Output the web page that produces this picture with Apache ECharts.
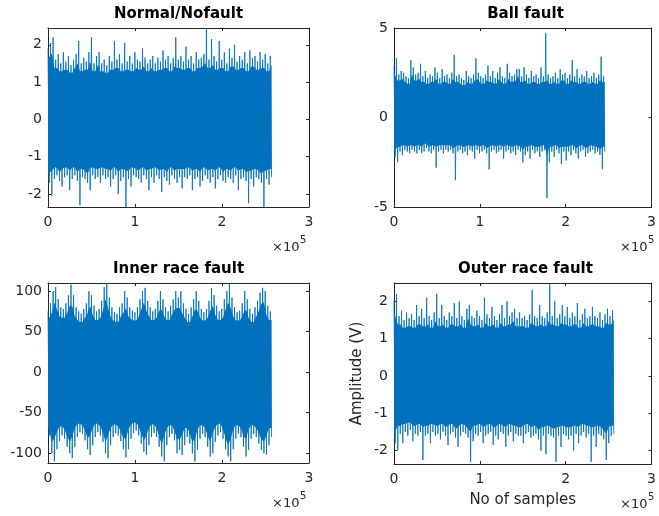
<!DOCTYPE html>
<html>
<head>
<meta charset="utf-8">
<script src="https://cdn.jsdelivr.net/npm/echarts@6/dist/echarts.min.js"></script>
<style>
  html, body { margin: 0; padding: 0; background: #fff; }
  #chart { width: 659px; height: 516px; }
</style>
</head>
<body>
<div id="chart"></div>
<script>
// Vibration records: each signal is stored as per-segment maximum / minimum
// amplitude, consecutive segments covering the whole record.
const panelTitles = ['Normal/Nofault', 'Ball fault', 'Inner race fault', 'Outer race fault'];
const xTicks = [0, 100000, 200000, 300000];

const normalEnd = 257000;
const normalHi = [1.9,2.05,2.2,1.6,1.75,1.5,1.8,1.55,1.7,1.45, 1.6,1.75,2.1,1.5,1.65,1.55,1.8,2.2,1.5,1.7,
  1.8,1.5,1.6,1.45,1.7,1.55,2.1,1.6,1.75,1.5, 2.05,1.55,1.7,1.5,1.8,1.6,1.55,1.9,1.65,1.5,
  1.6,1.7,1.5,1.65,1.55,1.85,1.6,1.7,1.5,1.65,2.2,1.6, 1.7,1.55,1.95,1.6,1.7,1.5,1.8,1.6,1.65,1.75,
  2.45,1.6,2.15,1.7,1.55,2.1,1.6,1.8,1.5,1.9, 1.65,2.0,1.55,1.7,1.6,1.8,1.5,1.85,1.65,1.7,
  1.55,1.8,1.6,1.75,1.5,1.7];
const normalLo = [-1.7,-2.05,-1.6,-1.5,-1.65,-1.8,-1.55,-1.5,-1.9,-1.6, -1.5,-1.65,-2.3,-1.55,-1.6,-1.7,-1.9,-1.5,-1.6,-1.55,
  -1.7,-1.5,-1.6,-1.55,-1.8,-1.6,-1.5,-2.0,-1.65,-1.55, -2.35,-1.6,-1.8,-1.5,-1.55,-1.6,-1.7,-1.5,-1.6,-1.9,
  -1.55,-1.7,-1.5,-1.6,-1.95,-1.55,-1.65,-1.75,-1.5,-1.6,-1.7,-1.55, -1.85,-1.55,-1.6,-1.5,-1.9,-1.6,-1.55,-1.8,-1.65,-1.5,
  -1.6,-1.7,-1.55,-1.85,-1.6,-1.5,-1.65,-1.7,-1.55,-1.6, -1.7,-1.5,-1.9,-1.6,-1.55,-1.65,-2.25,-1.6,-1.8,-1.55,
  -1.6,-1.7,-2.35,-1.6,-1.75,-1.55];

const ballEnd = 245500;
const ballHi = [2.9,3.3,2.4,2.6,2.5,2.3,2.2,3.2,2.8,2.4, 2.5,3.0,2.3,2.6,2.2,2.4,2.3,2.8,2.5,2.2,
  2.7,2.3,2.4,2.2,2.5,3.5,2.3,2.4,2.2,2.1, 2.6,2.3,2.2,2.4,3.3,2.5,2.3,2.2,2.4,2.9,
  2.3,2.6,2.2,2.5,2.8,2.3,2.2,3.0,2.5,2.3,2.4,2.7, 2.7,2.3,2.8,2.4,2.2,2.6,2.3,2.4,2.2,2.8,
  2.3,4.7,2.4,2.2,2.3,2.5,2.2,2.7,2.4,2.5, 2.2,2.4,3.2,2.3,2.7,2.2,2.4,2.3,2.6,2.2,
  2.3,2.5,2.2,2.4,3.4,2.3];
const ballLo = [-2.2,-2.5,-1.9,-2.1,-1.8,-1.9,-2.0,-1.8,-1.9,-2.0, -1.8,-2.0,-1.9,-1.7,-1.9,-2.0,-1.8,-2.8,-1.9,-1.8,
  -2.0,-1.8,-1.9,-1.8,-2.0,-3.5,-1.9,-1.8,-2.0,-1.9, -2.1,-1.8,-1.9,-2.3,-1.8,-2.0,-1.9,-1.8,-2.0,-2.9,
  -1.9,-1.8,-2.0,-1.9,-1.8,-2.3,-1.9,-1.8,-2.0,-1.9,-2.1,-1.8, -1.9,-2.5,-2.1,-1.9,-2.3,-1.8,-2.0,-1.9,-2.2,-1.9,
  -1.8,-4.5,-2.5,-1.9,-2.2,-1.8,-2.0,-2.6,-1.9,-2.4, -1.9,-2.1,-1.8,-2.0,-2.3,-1.9,-1.8,-2.2,-2.0,-1.9,
  -1.8,-2.0,-1.9,-2.1,-2.9,-1.9];

const innerEnd = 257000;
const innerHi = [75,85,100,105,90,80,78,85,95,108, 95,80,75,72,78,85,100,95,82,75,
  78,88,105,110,92,80,74,72,80,85, 100,92,80,76,74,80,90,100,104,88,
  80,75,78,88,100,90,80,75,82,90,100,92, 100,85,78,72,80,90,100,88,78,74,
  78,88,104,95,82,75,78,90,100,110, 92,80,74,76,85,100,90,78,72,80,
  88,98,104,100,82,75];
const innerLo = [-78,-100,-110,-95,-85,-78,-82,-92,-100,-106, -92,-80,-74,-76,-84,-95,-102,-90,-80,-74,
  -78,-86,-100,-106,-90,-80,-75,-78,-85,-95, -105,-95,-82,-75,-72,-78,-88,-98,-102,-90,
  -80,-75,-80,-92,-104,-110,-90,-80,-76,-84,-100,-96, -102,-90,-80,-88,-100,-110,-96,-82,-76,-80,
  -92,-104,-100,-86,-78,-74,-82,-95,-104,-110, -95,-82,-76,-80,-92,-104,-96,-82,-76,-80,
  -88,-96,-100,-102,-90,-80];

const outerEnd = 256000;
const outerHi = [2.0,2.2,1.6,1.75,1.5,1.7,1.55,1.65,1.5,1.9, 1.6,1.8,1.55,2.1,1.6,1.5,1.7,2.2,1.55,1.9,
  1.6,1.5,1.7,1.6,1.95,1.55,2.0,1.6,1.5,1.8, 1.9,1.6,1.55,1.75,1.6,1.5,2.1,1.65,1.55,1.85,
  1.6,1.5,1.65,1.9,1.55,2.0,1.6,1.7,1.8,1.55, 1.7,1.55,1.6,1.5,1.65,2.3,1.6,1.55,1.9,1.6,
  1.55,1.7,2.45,1.6,2.0,1.55,1.65,1.9,1.6,1.85, 1.55,1.7,1.6,1.95,1.5,1.65,1.8,1.55,1.6,1.85,
  1.6,1.55,1.7,1.5,1.65,1.8,1.6,1.75];
const outerLo = [-1.8,-2.0,-1.55,-1.8,-1.5,-1.6,-1.45,-1.75,-1.55,-1.6, -1.5,-2.25,-1.6,-1.55,-1.8,-1.5,-1.6,-1.55,-1.7,-1.5,
  -1.6,-1.85,-1.55,-1.5,-1.65,-1.9,-1.6,-1.5,-1.55,-1.65, -2.3,-1.75,-1.55,-1.6,-1.5,-1.8,-1.6,-1.55,-1.5,-1.85,
  -1.6,-1.7,-1.5,-1.55,-1.9,-1.6,-1.5,-1.75,-1.55,-1.6, -1.6,-1.8,-1.55,-1.5,-1.65,-1.6,-1.55,-1.7,-2.0,-1.6,
  -2.1,-1.55,-1.6,-1.65,-2.3,-1.6,-1.9,-1.55,-1.6,-1.7, -1.6,-2.0,-1.55,-1.8,-1.6,-1.5,-1.65,-1.55,-2.3,-1.6,
  -1.9,-1.55,-1.6,-1.7,-2.25,-1.8,-1.6,-1.55];

const yTicksSmall = [-2, -1, 0, 1, 2];
const yTicksBall = [-5, 0, 5];
const yTicksInner = [-100, -50, 0, 50, 100];

// Plot boxes (pixels) and amplitude ranges for each panel
const panels = [
  { hi: normalHi, lo: normalLo, end: normalEnd, ymin: -2.35, ymax: 2.45, ticks: yTicksSmall,
    box: { left: 48, top: 28, width: 261, height: 179 } },
  { hi: ballHi, lo: ballLo, end: ballEnd, ymin: -5, ymax: 5, ticks: yTicksBall,
    box: { left: 394, top: 28, width: 263, height: 179 } },
  { hi: innerHi, lo: innerLo, end: innerEnd, ymin: -112, ymax: 110, ticks: yTicksInner,
    box: { left: 48, top: 283, width: 261, height: 180 } },
  { hi: outerHi, lo: outerLo, end: outerEnd, ymin: -2.36, ymax: 2.49, ticks: yTicksSmall,
    box: { left: 394, top: 283, width: 263, height: 181 } }
];

const FONT = "'DejaVu Sans', Verdana, sans-serif";
const AXIS = '#262626';
const LINE = '#0072BD';
const BODY_SHARE = 0.86;   // dense body sits inside the outer fringe of spikes

// Interleave segment maxima and minima into one trace
function trace(p) {
  const n = p.hi.length;
  const step = p.end / (n - 0.5);
  const out = [];
  for (let i = 0; i < n; i++) {
    out.push([i * step, p.hi[i]]);
    out.push([(i + 0.5) * step, p.lo[i]]);
  }
  return out;
}

// Dense body of the signal: inside the level both neighbouring segments reach
function body(p) {
  const n = p.hi.length;
  const step = p.end / (n - 0.5);
  const top = [], bottom = [];
  for (let i = 0; i < n; i++) {
    const b = Math.min(n - 1, i + 1);
    const h = BODY_SHARE * Math.min(p.hi[i], p.hi[b]);
    const l = BODY_SHARE * Math.max(p.lo[i], p.lo[b]);
    const x = (i + 0.5) * step;
    top.push([x, h]);
    bottom.push([x, l]);
  }
  top[0][0] = 0;
  bottom[0][0] = 0;
  top[n - 1][0] = p.end;
  bottom[n - 1][0] = p.end;
  return top.concat(bottom.reverse());
}

const grid = [], xAxis = [], yAxis = [], series = [], graphic = [];

panels.forEach((p, k) => {
  grid.push(Object.assign({ containLabel: false }, p.box));
  const tickCommon = { show: true, inside: true, length: 3, lineStyle: { color: AXIS, width: 1 } };
  const lineCommon = { show: true, onZero: false, lineStyle: { color: AXIS, width: 1 } };
  // bottom + top x axes
  xAxis.push({
    type: 'value', gridIndex: k, position: 'bottom', min: 0, max: 300000,
    axisLine: lineCommon,
    axisTick: Object.assign({ customValues: xTicks }, tickCommon),
    axisLabel: { customValues: xTicks, formatter: v => String(v / 100000), color: AXIS,
                 fontSize: 14, fontFamily: FONT, margin: 8, showMinLabel: true, showMaxLabel: true },
    splitLine: { show: false },
    name: k === 3 ? 'No of samples' : '', nameLocation: 'middle', nameGap: 29,
    nameTextStyle: { color: AXIS, fontSize: 15, fontFamily: FONT }
  });
  xAxis.push({
    type: 'value', gridIndex: k, position: 'top', min: 0, max: 300000,
    axisLine: lineCommon,
    axisTick: Object.assign({ customValues: xTicks }, tickCommon),
    axisLabel: { show: false }, splitLine: { show: false }
  });
  // left + right y axes
  yAxis.push({
    type: 'value', gridIndex: k, position: 'left', min: p.ymin, max: p.ymax,
    axisLine: lineCommon,
    axisTick: Object.assign({ customValues: p.ticks }, tickCommon),
    axisLabel: { customValues: p.ticks, color: AXIS, fontSize: 14, fontFamily: FONT, margin: 6 },
    splitLine: { show: false },
    name: k === 3 ? 'Amplitude (V)' : '', nameLocation: 'middle', nameGap: 29,
    nameTextStyle: { color: AXIS, fontSize: 15, fontFamily: FONT }
  });
  yAxis.push({
    type: 'value', gridIndex: k, position: 'right', min: p.ymin, max: p.ymax,
    axisLine: lineCommon,
    axisTick: Object.assign({ customValues: p.ticks }, tickCommon),
    axisLabel: { show: false }, splitLine: { show: false }
  });
  const band = body(p);
  series.push({
    type: 'custom', xAxisIndex: 2 * k, yAxisIndex: 2 * k, coordinateSystem: 'cartesian2d',
    data: [[0, 0]], clip: true, animation: false, silent: true,
    renderItem: function (params, api) {
      return {
        type: 'polygon',
        shape: { points: band.map(d => api.coord(d)) },
        style: { fill: LINE, stroke: null }
      };
    }
  });
  series.push({
    type: 'line', xAxisIndex: 2 * k, yAxisIndex: 2 * k, data: trace(p),
    showSymbol: false, symbol: 'none', animation: false, clip: true,
    lineStyle: { color: LINE, width: 1, opacity: 0.85 }
  });

  const b = p.box;
  // panel title
  graphic.push({
    type: 'text', x: b.left + b.width / 2, y: b.top - 14,
    style: { text: panelTitles[k], fill: '#000', font: 'bold 15px ' + FONT,
             align: 'center', verticalAlign: 'middle' }
  });
  // exponent note under the x axis
  const ex = b.left + b.width - 37;
  const ey = b.top + b.height + 34;
  graphic.push({ type: 'text', left: ex, top: ey,
    style: { text: '\u00d710', fill: AXIS, font: '13px ' + FONT } });
  graphic.push({ type: 'text', left: ex + 28, top: ey - 6,
    style: { text: '5', fill: AXIS, font: '10px ' + FONT } });
});

const chart = echarts.init(document.getElementById('chart'), null, { renderer: 'canvas' });
chart.setOption({
  backgroundColor: '#fff',
  animation: false,
  grid, xAxis, yAxis, series, graphic
});
</script>
</body>
</html>
